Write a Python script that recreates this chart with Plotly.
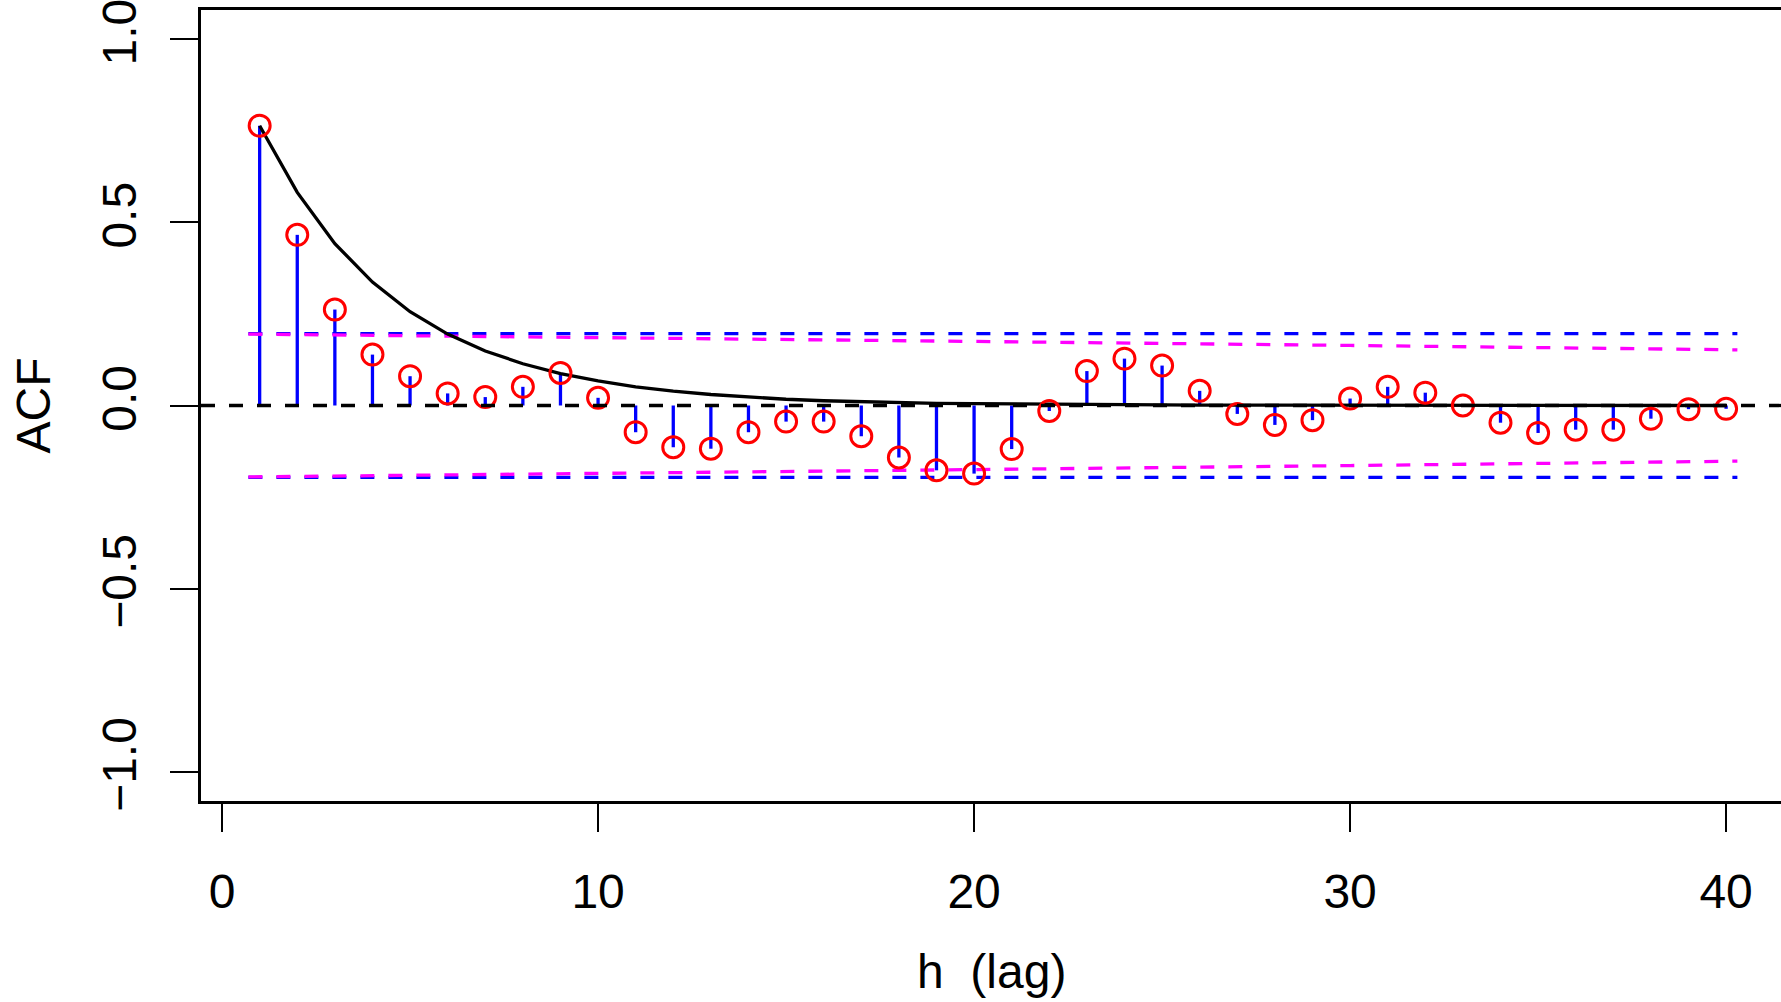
import plotly.graph_objects as go

# ---- data ----
lags = list(range(1, 41))
acf_values = [0.764, 0.466, 0.262, 0.139, 0.080, 0.033, 0.023, 0.051, 0.089, 0.021,
              -0.073, -0.114, -0.118, -0.073, -0.044, -0.044, -0.084, -0.142, -0.177, -0.186,
              -0.119, -0.015, 0.094, 0.128, 0.109, 0.040, -0.023, -0.053, -0.040, 0.019,
              0.051, 0.035, 0.000, -0.047, -0.075, -0.066, -0.066, -0.036, -0.010, -0.009]
theory_values = [0.764, 0.582, 0.442, 0.337, 0.256, 0.195, 0.149, 0.114, 0.087, 0.067,
                 0.051, 0.039, 0.030, 0.023, 0.017, 0.013, 0.010, 0.008, 0.006, 0.005,
                 0.004, 0.003, 0.002, 0.002, 0.001, 0.001, 0.001, 0.001, 0.000, 0.000,
                 0.000, 0.000, 0.000, 0.000, 0.000, 0.000, 0.000, 0.000, 0.000, 0.000]
band_x = [0.7, 40.3]
blue_band = [0.196, 0.196]
magenta_x = [0.7, 10, 20, 30, 40.3]
magenta_band = [0.195, 0.186, 0.175, 0.164, 0.152]

y_tickvals = [-1.0, -0.5, 0.0, 0.5, 1.0]
y_ticktext = ["\u22121.0", "\u22120.5", "0.0", "0.5", "1.0"]
x_tickvals = [0, 10, 20, 30, 40]
x_ticktext = ["0", "10", "20", "30", "40"]

FONT = "Liberation Sans, Arial, Helvetica, sans-serif"
DASH = "14px,14px"

fig = go.Figure()

# stems
sx, sy = [], []
for l, v in zip(lags, acf_values):
    sx += [l, l, None]
    sy += [0, v, None]
fig.add_trace(go.Scatter(x=sx, y=sy, mode="lines",
                         line=dict(color="#0000FF", width=3.3), hoverinfo="skip"))

# blue CI bands
for sign in (1, -1):
    fig.add_trace(go.Scatter(x=band_x, y=[sign * b for b in blue_band], mode="lines",
                             line=dict(color="#0000FF", width=3.3, dash=DASH)))
# magenta bands
for sign in (1, -1):
    fig.add_trace(go.Scatter(x=magenta_x, y=[sign * b for b in magenta_band], mode="lines",
                             line=dict(color="#FF00FF", width=3.3, dash=DASH)))

# zero line
fig.add_shape(type="line", xref="paper", x0=0, x1=1, yref="y", y0=0, y1=0,
              line=dict(color="black", width=3.3, dash=DASH))

# theoretical curve
fig.add_trace(go.Scatter(x=lags, y=theory_values, mode="lines",
                         line=dict(color="black", width=3.3)))

# sample ACF points
fig.add_trace(go.Scatter(x=lags, y=acf_values, mode="markers",
                         marker=dict(symbol="circle-open", size=21, color="#FF0000",
                                     line=dict(color="#FF0000", width=3))))

fig.update_layout(
    width=1781, height=1002,
    margin=dict(l=201, r=0, t=10, b=201),
    paper_bgcolor="white", plot_bgcolor="white",
    showlegend=False,
    font=dict(family=FONT, size=48, color="black"),
    xaxis=dict(range=[-0.56, 41.46], tickvals=x_tickvals, ticktext=x_ticktext,
               showgrid=False, zeroline=False, showline=True, linecolor="black",
               linewidth=2.7, mirror=True, ticks="outside", ticklen=28, tickwidth=2,
               tickcolor="black", ticklabelstandoff=19, ticklabeloverflow="allow",
               tickfont=dict(family=FONT, size=48, color="black")),
    yaxis=dict(range=[-1.08, 1.08], tickvals=y_tickvals, ticktext=y_ticktext,
               showgrid=False, zeroline=False, showline=True, linecolor="black",
               linewidth=2.7, ticks="outside", ticklen=28, tickwidth=2,
               tickcolor="black", tickangle=-90, ticklabelstandoff=15,
               ticklabeloverflow="allow",
               tickfont=dict(family=FONT, size=48, color="black")),
    annotations=[
        dict(text="h\u00a0 (lag)", xref="paper", yref="paper", x=0.5, y=-0.2157,
             xanchor="center", yanchor="middle", showarrow=False,
             font=dict(family=FONT, size=48, color="black")),
        dict(text="ACF", xref="paper", yref="paper", x=-0.1063, y=0.5,
             xanchor="center", yanchor="middle", textangle=-90, showarrow=False,
             font=dict(family=FONT, size=48, color="black")),
    ],
)

fig.write_html("out.html")
